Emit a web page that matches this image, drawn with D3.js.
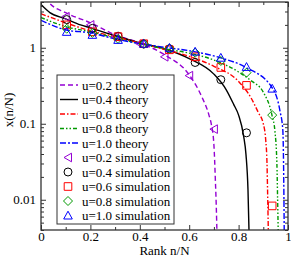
<!DOCTYPE html>
<html>
<head>
<meta charset="utf-8">
<script src="https://cdn.jsdelivr.net/npm/d3@7/dist/d3.min.js"></script>
<style>
  body { margin: 0; background: #fff; }
  text { font-family: "Liberation Serif", "DejaVu Serif", serif; }
</style>
</head>
<body>
<div id="chart"></div>
<script>
// rank ticks (x) and x(n/N) ticks (log y)
const rankTicks = [0, 0.2, 0.4, 0.6, 0.8, 1];
const rankMinor = [0.1, 0.3, 0.5, 0.7, 0.9];
const valueTicks = [0.01, 0.1, 1];
const valueMinor = [0.004, 0.005, 0.006, 0.007, 0.008, 0.009,
  0.02, 0.03, 0.04, 0.05, 0.06, 0.07, 0.08, 0.09,
  0.2, 0.3, 0.4, 0.5, 0.6, 0.7, 0.8, 0.9, 2, 3, 4];

// theory curves, [rank, x]
const theory02 = [[0, 5.6], [0.03, 4.0], [0.1, 2.89], [0.2, 2.13], [0.3, 1.48], [0.4, 1.16],
  [0.5, 0.81], [0.6, 0.44], [0.65, 0.23], [0.68, 0.13], [0.69, 0.097], [0.7, 0.053],
  [0.706, 0.018], [0.71, 0.0074], [0.713, 0.003]];
const theory04 = [[0, 3.7], [0.036, 2.9], [0.1, 2.4], [0.16, 2.0], [0.2, 1.83], [0.3, 1.44],
  [0.4, 1.16], [0.5, 0.97], [0.6, 0.72], [0.7, 0.45], [0.75, 0.28], [0.78, 0.18],
  [0.8, 0.13], [0.82, 0.07], [0.83, 0.039], [0.838, 0.0135], [0.843, 0.003]];
const theory06 = [[0, 2.8], [0.1, 2.13], [0.2, 1.67], [0.3, 1.4], [0.4, 1.15], [0.5, 0.95],
  [0.6, 0.77], [0.7, 0.57], [0.8, 0.36], [0.85, 0.22], [0.88, 0.14], [0.9, 0.1],
  [0.91, 0.06], [0.915, 0.03], [0.918, 0.01], [0.921, 0.003]];
const theory08 = [[0, 2.5], [0.1, 1.9], [0.2, 1.62], [0.3, 1.35], [0.4, 1.13], [0.5, 0.97],
  [0.6, 0.85], [0.7, 0.69], [0.8, 0.48], [0.85, 0.37], [0.9, 0.26], [0.935, 0.13],
  [0.947, 0.08], [0.955, 0.03], [0.958, 0.01], [0.961, 0.003]];
const theory10 = [[0, 2.3], [0.1, 1.72], [0.2, 1.57], [0.3, 1.31], [0.4, 1.13], [0.515, 1.0],
  [0.62, 0.89], [0.725, 0.74], [0.83, 0.55], [0.935, 0.3], [0.967, 0.15], [0.979, 0.083],
  [0.982, 0.03], [0.985, 0.003]];

// simulation points, [rank, x]
const sim02 = [[0.1, 2.56], [0.2, 2.0], [0.3, 1.4], [0.4, 1.13], [0.5, 0.76], [0.6, 0.43], [0.7, 0.085]];
const sim04 = [[0.104, 2.35], [0.208, 1.8], [0.312, 1.42], [0.416, 1.12], [0.52, 0.97],
  [0.624, 0.64], [0.728, 0.38], [0.832, 0.076]];
const sim06 = [[0.104, 2.0], [0.208, 1.62], [0.312, 1.4], [0.416, 1.13], [0.52, 0.94],
  [0.624, 0.76], [0.728, 0.55], [0.832, 0.32], [0.936, 0.0083]];
const sim08 = [[0.104, 1.78], [0.208, 1.57], [0.312, 1.31], [0.416, 1.13], [0.52, 0.97],
  [0.624, 0.86], [0.728, 0.67], [0.832, 0.47], [0.936, 0.13]];
const sim10 = [[0.104, 1.62], [0.208, 1.48], [0.312, 1.27], [0.416, 1.13], [0.52, 1.0],
  [0.624, 0.89], [0.728, 0.74], [0.832, 0.56], [0.936, 0.29]];

const series = [
  { name: 'u=0.2 theory', data: theory02, color: '#9400d3', dash: '5,3' },
  { name: 'u=0.4 theory', data: theory04, color: '#000000', dash: null },
  { name: 'u=0.6 theory', data: theory06, color: '#ff0000', dash: '5,2,1.5,2' },
  { name: 'u=0.8  theory', data: theory08, color: '#009900', dash: '4,2,1.5,2,1.5,2' },
  { name: 'u=1.0 theory', data: theory10, color: '#0000ff', dash: '6,2,2,2' },
];
const sims = [
  { name: 'u=0.2 simulation', data: sim02, color: '#9400d3', symbol: 'left' },
  { name: 'u=0.4 simulation', data: sim04, color: '#000000', symbol: 'circle' },
  { name: 'u=0.6 simulation', data: sim06, color: '#ff0000', symbol: 'square' },
  { name: 'u=0.8 simulation', data: sim08, color: '#009900', symbol: 'diamond' },
  { name: 'u=1.0 simulation', data: sim10, color: '#0000ff', symbol: 'up' },
];

const W = 291, H = 257;
const margin = { top: 2, right: 3, bottom: 27, left: 41 };
const width = W - margin.left - margin.right;
const height = H - margin.top - margin.bottom;

const svg = d3.select('#chart').append('svg')
  .attr('width', W).attr('height', H);
const g = svg.append('g').attr('transform', `translate(${margin.left},${margin.top})`);

const x = d3.scaleLinear().domain([0, 1]).range([0, width]);
const y = d3.scaleLog().domain([0.004, 4]).range([height, 0]);

g.append('clipPath').attr('id', 'clip')
  .append('rect').attr('width', width).attr('height', height);

// curves
const line = d3.line()
  .x(d => x(d[0]))
  .y(d => y(d[1]))
  .curve(d3.curveMonotoneX);

const plot = g.append('g').attr('clip-path', 'url(#clip)');
series.forEach(s => {
  plot.append('path')
    .datum(s.data)
    .attr('fill', 'none')
    .attr('stroke', s.color)
    .attr('stroke-width', 1.4)
    .attr('stroke-dasharray', s.dash)
    .attr('d', line);
});

// symbols
function symbolPath(type) {
  if (type === 'left') return 'M-4,0L3.5,-4.3L3.5,4.3Z';
  if (type === 'up') return 'M0,-4.3L4.3,3.5L-4.3,3.5Z';
  if (type === 'circle') return d3.symbol(d3.symbolCircle, 50)();
  if (type === 'square') return 'M-3.8,-3.8H3.8V3.8H-3.8Z';
  return 'M0,-4.5L4.5,0L0,4.5L-4.5,0Z';
}
sims.forEach(s => {
  plot.selectAll(null)
    .data(s.data)
    .enter()
    .append('path')
    .attr('transform', d => `translate(${x(d[0])},${y(d[1])})`)
    .attr('d', symbolPath(s.symbol))
    .attr('fill', 'none')
    .attr('stroke', s.color)
    .attr('stroke-width', 1);
});

// axes, ticks inside on every side
const axisColor = '#333';
function styleAxis(sel) {
  sel.select('.domain').remove();
  sel.selectAll('line').attr('stroke', axisColor);
  sel.selectAll('text').attr('font-size', 13).attr('fill', '#000')
    .attr('font-family', '"Liberation Serif", serif');
}
g.append('g').attr('transform', `translate(0,${height})`)
  .call(d3.axisBottom(x).tickValues(rankTicks).tickSize(-5).tickPadding(2)
    .tickFormat(d => d === 0 || d === 1 ? d3.format('d')(d) : d3.format('.1f')(d)))
  .call(styleAxis);
g.append('g').attr('transform', `translate(0,${height})`)
  .call(d3.axisBottom(x).tickValues(rankMinor).tickSize(-3).tickFormat(''))
  .call(styleAxis);
g.append('g')
  .call(d3.axisTop(x).tickValues(rankTicks).tickSize(-5).tickFormat(''))
  .call(styleAxis);
g.append('g')
  .call(d3.axisTop(x).tickValues(rankMinor).tickSize(-3).tickFormat(''))
  .call(styleAxis);

g.append('g')
  .call(d3.axisLeft(y).tickValues(valueTicks).tickSize(-5).tickPadding(5)
    .tickFormat(d => String(d)))
  .call(styleAxis);
g.append('g')
  .call(d3.axisLeft(y).tickValues(valueMinor).tickSize(-3).tickFormat(''))
  .call(styleAxis);
g.append('g').attr('transform', `translate(${width},0)`)
  .call(d3.axisRight(y).tickValues(valueTicks).tickSize(-5).tickFormat(''))
  .call(styleAxis);
g.append('g').attr('transform', `translate(${width},0)`)
  .call(d3.axisRight(y).tickValues(valueMinor).tickSize(-3).tickFormat(''))
  .call(styleAxis);

// frame
g.append('rect')
  .attr('width', width).attr('height', height)
  .attr('fill', 'none').attr('stroke', axisColor).attr('stroke-width', 1.3);

// axis labels
g.append('text')
  .attr('x', width / 2).attr('y', height + 25)
  .attr('text-anchor', 'middle').attr('font-size', 13)
  .text('Rank n/N');
g.append('text')
  .attr('transform', 'rotate(-90)')
  .attr('x', -108).attr('y', -28)
  .attr('text-anchor', 'middle').attr('font-size', 13)
  .text('x(n/N)');

// legend
const legend = g.append('g').attr('transform', 'translate(16,73)');
const rowH = 14.5;
legend.append('rect')
  .attr('x', 0).attr('y', 0)
  .attr('width', 117).attr('height', 149)
  .attr('fill', '#fff').attr('stroke', axisColor).attr('stroke-width', 1);

series.forEach((s, i) => {
  const row = legend.append('g').attr('transform', `translate(0,${10 + i * rowH})`);
  row.append('line')
    .attr('x1', 3).attr('x2', 21).attr('y1', 0).attr('y2', 0)
    .attr('stroke', s.color).attr('stroke-width', 1.4)
    .attr('stroke-dasharray', s.dash);
  row.append('text').attr('x', 25).attr('y', 4.5).attr('font-size', 13).text(s.name);
});
sims.forEach((s, i) => {
  const row = legend.append('g')
    .attr('transform', `translate(0,${10 + (i + series.length) * rowH})`);
  row.append('path')
    .attr('transform', 'translate(11,0)')
    .attr('d', symbolPath(s.symbol))
    .attr('fill', 'none').attr('stroke', s.color).attr('stroke-width', 1);
  row.append('text').attr('x', 25).attr('y', 4.5).attr('font-size', 13).text(s.name);
});
</script>
</body>
</html>
